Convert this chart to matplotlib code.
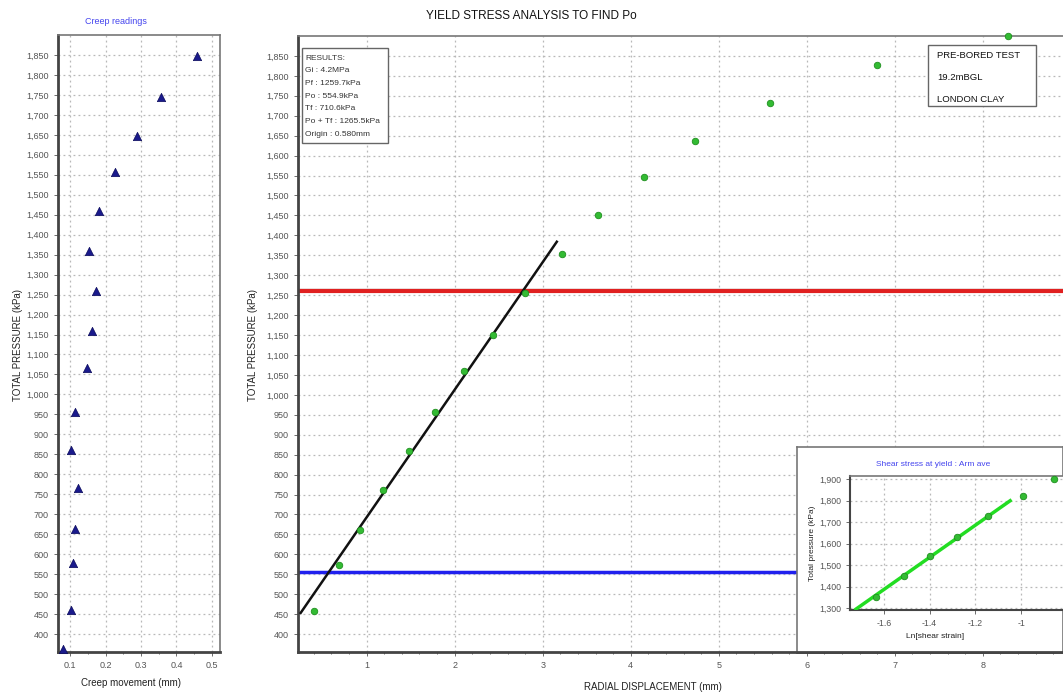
import matplotlib
matplotlib.use("Agg")
import matplotlib.pyplot as plt
from matplotlib.ticker import FuncFormatter, MultipleLocator
from matplotlib.patches import Rectangle

plt.rcParams['font.family'] = ['Liberation Sans', 'DejaVu Sans']

# creep readings (left panel)
creep_mm = [0.080, 0.102, 0.108, 0.114, 0.122, 0.103, 0.114, 0.148, 0.162,
            0.174, 0.154, 0.182, 0.228, 0.288, 0.356, 0.458]
creep_kpa = [362, 460, 578, 663, 765, 861, 956, 1066, 1159, 1259, 1359,
             1459, 1557, 1646, 1746, 1847]

# main curve: radial displacement vs total pressure
disp_mm = [0.40, 0.69, 0.92, 1.19, 1.48, 1.78, 2.11, 2.43, 2.80, 3.22,
           3.63, 4.15, 4.73, 5.58, 6.80, 8.29]
pressure_kpa = [458, 574, 661, 762, 859, 956, 1061, 1151, 1256, 1354,
                1452, 1547, 1637, 1732, 1828, 1900]

# elastic fit line
fit_x = [0.25, 3.16]
fit_y = [453, 1384]

pf = 1259.7
po = 554.9
po_tf = 1265.5

results = ["RESULTS:", "Gi : 4.2MPa", "Pf : 1259.7kPa", "Po : 554.9kPa",
           "Tf : 710.6kPa", "Po + Tf : 1265.5kPa", "Origin : 0.580mm"]
info = ["PRE-BORED TEST", "19.2mBGL", "LONDON CLAY"]

# inset: shear stress at yield
ln_strain = [-1.635, -1.513, -1.397, -1.281, -1.146, -0.993, -0.857]
inset_kpa = [1351, 1449, 1542, 1632, 1728, 1822, 1900]
inset_fit_x = [-1.722, -1.048]
inset_fit_y = [1295, 1799]

W, H = 1063, 695
fig = plt.figure(figsize=(W / 100, H / 100), dpi=100)


def box(x0, y0, x1, y1):
    # pixel coords (top-left origin) -> figure fraction rect
    return [x0 / W, 1 - y1 / H, (x1 - x0) / W, (y1 - y0) / H]


comma = FuncFormatter(lambda v, p: f'{v:,.0f}')
grid_kw = dict(color='#b8b8b8', linestyle=(0, (1.5, 2.5)), linewidth=0.9)
tick_col = '#555555'


def style(ax, lw_main=2.0):
    ax.grid(True, **grid_kw)
    ax.set_axisbelow(True)
    for s in ['left', 'bottom']:
        ax.spines[s].set_color('#444444')
        ax.spines[s].set_linewidth(lw_main)
    for s in ['top', 'right']:
        ax.spines[s].set_color('#777777')
        ax.spines[s].set_linewidth(1.2)
    ax.tick_params(labelsize=6.5, colors=tick_col, length=3, width=0.6)


# left panel
ax1 = fig.add_axes(box(58, 35, 220, 652))
style(ax1)
ax1.scatter(creep_mm, creep_kpa, marker='^', s=36, color='#1a1a8c',
            edgecolor='#0a0a5a', linewidth=0.5, zorder=3, clip_on=False)
ax1.set_xlim(0.066, 0.523)
ax1.set_ylim(355, 1900)
ax1.set_xticks([0.1, 0.2, 0.3, 0.4, 0.5])
ax1.xaxis.set_minor_locator(MultipleLocator(0.05))
ax1.set_yticks(range(400, 1851, 50))
ax1.yaxis.set_major_formatter(comma)
ax1.tick_params(axis='x', which='minor', length=1.5, color=tick_col)
fig.text(116 / W, 1 - 22 / H, "Creep readings", color='#4444ee',
         fontsize=6.5, ha='center', va='center')
fig.text(131 / W, 1 - 683 / H, "Creep movement (mm)", fontsize=7,
         ha='center', va='center', color='#222222')
fig.text(18 / W, 1 - 345 / H, "TOTAL PRESSURE (kPa)", fontsize=7,
         rotation=90, ha='center', va='center', color='#222222')

# main panel
ax2 = fig.add_axes(box(298, 36, 1063, 652))
style(ax2)
ax2.spines['right'].set_visible(False)
ax2.axhline(po_tf, color='#999999', linewidth=1.0, zorder=2)
ax2.axhline(pf, color='#e02020', linewidth=3.0, zorder=2)
ax2.axhline(po, color='#2020ee', linewidth=2.5, zorder=2)
ax2.plot(fit_x, fit_y, color='#111111', linewidth=1.8, zorder=3)
ax2.scatter(disp_mm, pressure_kpa, s=22, color='#33bb33', edgecolor='#1f8f1f',
            linewidth=0.6, zorder=4, clip_on=False)
ax2.set_xlim(0.22, 8.91)
ax2.set_ylim(355, 1900)
ax2.set_xticks(range(1, 9))
ax2.xaxis.set_minor_locator(MultipleLocator(0.2))
ax2.tick_params(axis='x', which='minor', length=1.5, color=tick_col)
ax2.set_yticks(range(400, 1851, 50))
ax2.yaxis.set_major_formatter(comma)
fig.text(253 / W, 1 - 345 / H, "TOTAL PRESSURE (kPa)", fontsize=7,
         rotation=90, ha='center', va='center', color='#222222')
fig.text(653 / W, 1 - 687 / H, "RADIAL DISPLACEMENT (mm)", fontsize=7,
         ha='center', va='center', color='#222222')
fig.text(531 / W, 1 - 16 / H, "YIELD STRESS ANALYSIS TO FIND Po",
         fontsize=8.5, ha='center', va='center', color='#111111')

# results box
fig.patches.append(Rectangle((302 / W, 1 - 143 / H), 86 / W, 95 / H,
                             transform=fig.transFigure, facecolor='white',
                             edgecolor='#666666', linewidth=1.0, zorder=5))
for i, line in enumerate(results):
    fig.text(305 / W, 1 - (58 + i * 12.7) / H, line, fontsize=6,
             va='center', ha='left', color='#333333', zorder=6)

# info box
fig.patches.append(Rectangle((928 / W, 1 - 106 / H), 108 / W, 61 / H,
                             transform=fig.transFigure, facecolor='white',
                             edgecolor='#666666', linewidth=1.0, zorder=5))
for i, line in enumerate(info):
    fig.text(937 / W, 1 - (55 + i * 22) / H, line, fontsize=6.8,
             va='center', ha='left', color='#111111', zorder=6)

# inset frame
axf = fig.add_axes(box(797, 447, 1063, 652))
axf.set_facecolor('white')
axf.set_xticks([])
axf.set_yticks([])
for s in axf.spines.values():
    s.set_color('#777777')
    s.set_linewidth(1.2)
axf.spines['bottom'].set_color('#444444')
axf.spines['bottom'].set_linewidth(2.0)
fig.text(933 / W, 1 - 464 / H, "Shear stress at yield : Arm ave",
         color='#4444ee', fontsize=6, ha='center', va='center')

# inset axes
ax3 = fig.add_axes(box(850, 476, 1063, 610))
style(ax3, lw_main=1.5)
ax3.spines['right'].set_visible(False)
ax3.plot(inset_fit_x, inset_fit_y, color='#22dd22', linewidth=2.5, zorder=3)
ax3.scatter(ln_strain, inset_kpa, s=22, color='#33bb33', edgecolor='#1f8f1f',
            linewidth=0.6, zorder=4, clip_on=False)
ax3.set_xlim(-1.748, -0.817)
ax3.set_ylim(1291, 1914)
ax3.set_xticks([-1.6, -1.4, -1.2, -1.0])
ax3.set_xticklabels(['-1.6', '-1.4', '-1.2', '-1'])
ax3.set_yticks(range(1300, 1901, 100))
ax3.yaxis.set_major_formatter(comma)
ax3.tick_params(labelsize=6.3)
fig.text(812 / W, 1 - 543 / H, "Total pressure (kPa)", fontsize=6,
         rotation=90, ha='center', va='center', color='#222222')
fig.text(935 / W, 1 - 636 / H, "Ln[shear strain]", fontsize=6,
         ha='center', va='center', color='#222222')

fig.savefig("out.png", dpi=100)
